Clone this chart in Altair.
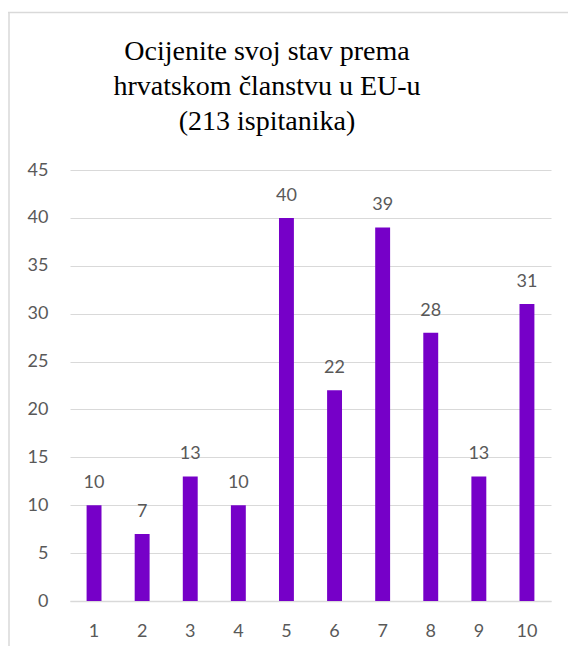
import altair as alt
import pandas as pd

categories = ["1", "2", "3", "4", "5", "6", "7", "8", "9", "10"]
counts = [10, 7, 13, 10, 40, 22, 39, 28, 13, 31]
title_lines = ["Ocijenite svoj stav prema", "hrvatskom članstvu u EU-u", "(213 ispitanika)"]
y_ticks = [0, 5, 10, 15, 20, 25, 30, 35, 40, 45]

df = pd.DataFrame({"cat": categories, "n": counts})

W, H = 481, 431
PAD_L, PAD_T, PAD_R, PAD_B = 62, 162, 17, 45
BAR = "#7600C8"
GRAY = "#595959"
FONT = "Lato"
FRAME = "#d9d9d9"

x = alt.X("cat:N", sort=categories, title=None,
          scale=alt.Scale(paddingInner=0.69, paddingOuter=0.345),
          axis=alt.Axis(labelAngle=0, ticks=False, domainColor=FRAME, domainWidth=1.5,
                        labelPadding=21, labelFontSize=18, labelColor=GRAY, labelFont=FONT))
y = alt.Y("n:Q", title=None, scale=alt.Scale(domain=[0, 45], nice=False),
          axis=alt.Axis(values=y_ticks, ticks=False, domain=False, gridColor=FRAME,
                        gridWidth=1.2, labelPadding=22, labelFontSize=18, labelColor=GRAY,
                        labelFont=FONT))

bars = alt.Chart(df).mark_bar(color=BAR).encode(x=x, y=y)
labels = alt.Chart(df).mark_text(baseline="bottom", dy=-13, fontSize=18, color=GRAY,
                                 font=FONT).encode(x=alt.X("cat:N", sort=categories),
                                                   y="n:Q", text="n:Q")

one = pd.DataFrame({"k": [0]})
left_line = alt.Chart(one).mark_rule(color=FRAME, strokeWidth=1.5).encode(
    x=alt.value(-61), y=alt.value(-157.5), y2=alt.value(H + PAD_B))
top_line = alt.Chart(one).mark_rule(color=FRAME, strokeWidth=1.5).encode(
    x=alt.value(-62), x2=alt.value(W + PAD_R), y=alt.value(-157.5))
title = alt.Chart(one).mark_text(
    text=title_lines, font="Liberation Serif", fontSize=28,
    color="black", lineHeight=35, align="center", baseline="middle").encode(
    x=alt.value(197), y=alt.value(-118))

chart = alt.layer(left_line, top_line, title, bars, labels).properties(
    width=W, height=H,
    autosize=alt.AutoSizeParams(type="none"),
    padding={"left": PAD_L, "top": PAD_T, "right": PAD_R, "bottom": PAD_B},
).configure_view(stroke=None)

chart.save("out.html", embed_options={"renderer": "svg", "actions": False})
